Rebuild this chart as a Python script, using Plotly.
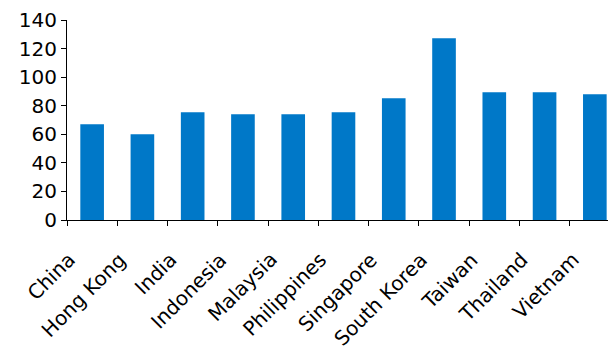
import plotly.graph_objects as go

# Index values by market
markets = ["China", "Hong Kong", "India", "Indonesia", "Malaysia", "Philippines",
           "Singapore", "South Korea", "Taiwan", "Thailand", "Vietnam"]
values = [67, 60, 75.4, 74, 74, 75.4, 85.2, 127.2, 89.4, 89.4, 88]
y_ticks = [0, 20, 40, 60, 80, 100, 120, 140]

BAR_BLUE = "#0078C8"
W, H = 608, 351
M_L, M_R, M_T, M_B = 67, 0, 20, 131
plot_w = W - M_L - M_R
CAT_PX = 50.27  # width of one category slot

fig = go.Figure()
fig.add_trace(go.Bar(
    x=markets, y=values,
    marker=dict(color=BAR_BLUE, line=dict(width=0)),
    width=0.47, hoverinfo="x+y",
))

# slanted category labels hung under each slot
labels = [
    dict(x=m, y=0, xref="x", yref="y", text=m, textangle=-45,
         xanchor="right", yanchor="top", xshift=-9, yshift=-25,
         showarrow=False,
         font=dict(size=20, family="DejaVu Sans", color="black"))
    for m in markets
]

fig.update_layout(
    width=W, height=H,
    margin=dict(l=M_L, r=M_R, t=M_T, b=M_B),
    paper_bgcolor="white", plot_bgcolor="white",
    showlegend=False,
    annotations=labels,
    xaxis=dict(
        type="category", categoryorder="array", categoryarray=markets,
        range=[-0.5, -0.5 + plot_w / CAT_PX],
        tickson="boundaries", ticks="outside", ticklen=5, tickcolor="black",
        showticklabels=False, showline=True, linecolor="black", linewidth=1,
        showgrid=False, zeroline=False,
    ),
    yaxis=dict(
        range=[0, 140], tickvals=y_ticks, ticks="outside", ticklen=5,
        tickcolor="black", showline=True, linecolor="black", linewidth=1,
        showgrid=False, zeroline=False, ticksuffix="\u00a0",
        tickfont=dict(size=20, family="DejaVu Sans", color="black"),
    ),
    bargap=0.53,
)

fig.write_html("out.html")
